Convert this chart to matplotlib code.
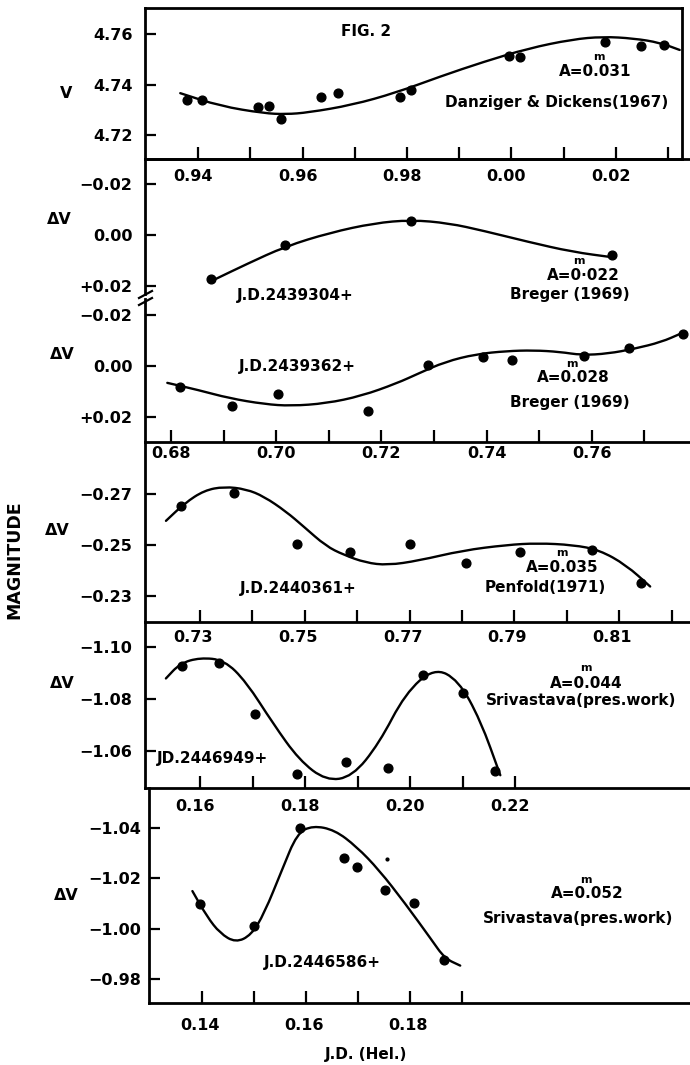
import matplotlib
matplotlib.use('Agg')
import matplotlib.pyplot as plt
from matplotlib.path import Path
from matplotlib.patches import PathPatch
from matplotlib.transforms import ScaledTranslation
from matplotlib.lines import Line2D

plt.rcParams['font.family'] = ['DejaVu Sans']
plt.rcParams['font.weight'] = 'bold'

# ---------------- data ----------------
# Panel 1: Danziger & Dickens (1967)
p1_phase = [0.9379, 0.9407, 0.9514, 0.9536, 0.9558, 0.9636, 0.9668, 0.9787, 0.9808,
            0.9996, 1.0017, 1.0179, 1.0248, 1.0291]
p1_mag = [4.7339, 4.7339, 4.7310, 4.7313, 4.7264, 4.7352, 4.7368, 4.7350, 4.7379,
          4.7514, 4.7509, 4.7571, 4.7555, 4.7557]
p1_curve_x = [0.9366, 0.9442, 0.9526, 0.9568, 0.9611, 0.9695, 0.9779, 0.9863, 0.9947,
              1.0032, 1.0116, 1.0175, 1.0234, 1.0284, 1.0322]
p1_curve_y = [4.7366, 4.7315, 4.7286, 4.7282, 4.7289, 4.7319, 4.7368, 4.7432, 4.7491,
              4.7544, 4.7580, 4.7591, 4.7584, 4.7567, 4.7538]

# Panel 2: Breger (1969), J.D.2439304+
p2_phase = [0.9424, 0.9567, 0.9808, 1.0192]
p2_mag = [0.0171, 0.0039, -0.0056, 0.0078]
p2_curve_x = [0.9434, 0.9493, 0.9567, 0.9653, 0.9737, 0.9808, 0.9880, 0.9947, 1.0032,
              1.0116, 1.0196]
p2_curve_y = [0.0171, 0.0113, 0.0044, -0.0010, -0.0047, -0.0060, -0.0047, -0.0017,
              0.0026, 0.0065, 0.0087]

# Panel 3: Breger (1969), J.D.2439362+
p3_phase = [0.6818, 0.6916, 0.7004, 0.7175, 0.7288, 0.7394, 0.7448, 0.7586, 0.7670, 0.7774]
p3_mag = [0.0083, 0.0154, 0.0108, 0.0176, -0.0003, -0.0036, -0.0026, -0.0041, -0.0070, -0.0127]
p3_curve_x = [0.6793, 0.6852, 0.6911, 0.6978, 0.7028, 0.7095, 0.7162, 0.7229, 0.7271,
              0.7321, 0.7380, 0.7438, 0.7489, 0.7539, 0.7581, 0.7631, 0.7681, 0.7732, 0.7769]
p3_curve_y = [0.0065, 0.0093, 0.0125, 0.0148, 0.0155, 0.0145, 0.0116, 0.0067, 0.0028,
              -0.0017, -0.0047, -0.0059, -0.0062, -0.0056, -0.0043, -0.0049, -0.0068,
              -0.0094, -0.0127]

# Panel 4: Penfold (1971), J.D.2440361+
p4_phase = [0.7264, 0.7365, 0.7486, 0.7586, 0.7700, 0.7808, 0.7911, 0.8048, 0.8142]
p4_mag = [-0.2655, -0.2704, -0.2504, -0.2471, -0.2503, -0.2428, -0.2474, -0.2480, -0.2351]
p4_curve_x = [0.7235, 0.7271, 0.7308, 0.7346, 0.7388, 0.7422, 0.7464, 0.7498, 0.7540,
              0.7574, 0.7616, 0.7658, 0.7717, 0.7801, 0.7885, 0.7944, 0.8012, 0.8062,
              0.8113, 0.8159]
p4_curve_y = [-0.2595, -0.2665, -0.2715, -0.2730, -0.2720, -0.2691, -0.2632, -0.2572,
              -0.2496, -0.2461, -0.2430, -0.2420, -0.2438, -0.2478, -0.2500, -0.2507,
              -0.2500, -0.2480, -0.2421, -0.2336]

# Panel 5: Srivastava (present work), J.D.2446949+
p5_phase = [0.1566, 0.1636, 0.1705, 0.1784, 0.1878, 0.1958, 0.2025, 0.2101, 0.2162]
p5_mag = [-1.0926, -1.0936, -1.0741, -1.0509, -1.0558, -1.0532, -1.0891, -1.0823, -1.0523]
p5_curve_x = [0.1535, 0.1562, 0.1600, 0.1646, 0.1688, 0.1739, 0.1789, 0.1840, 0.1890,
              0.1941, 0.1991, 0.2046, 0.2092, 0.2134, 0.2172]
p5_curve_y = [-1.0878, -1.0936, -1.0958, -1.0949, -1.0865, -1.0705, -1.0564, -1.0485,
              -1.0500, -1.0628, -1.0821, -1.0919, -1.0872, -1.0718, -1.0506]

# Panel 6: Srivastava (present work), J.D.2446586+
p6_phase = [0.1397, 0.1501, 0.1588, 0.1672, 0.1697, 0.1751, 0.1807, 0.1865]
p6_mag = [-1.0098, -1.0011, -1.0397, -1.0281, -1.0243, -1.0153, -1.0101, -0.9876]
p6_speck_x = [0.1756]
p6_speck_y = [-1.0275]
p6_curve_x = [0.1382, 0.1410, 0.1435, 0.1465, 0.1495, 0.1520, 0.1554, 0.1583, 0.1613,
              0.1655, 0.1697, 0.1740, 0.1790, 0.1841, 0.1866, 0.1896]
p6_curve_y = [-1.0149, -1.0048, -0.9982, -0.9945, -0.9975, -1.0061, -1.0233, -1.0378,
              -1.0408, -1.0391, -1.0325, -1.0233, -1.0101, -0.9956, -0.9883, -0.9854]

# tick values / labels
p1_xticks = [0.94, 0.96, 0.98, 1.00, 1.02]
p1_xticklabels = ['0.94', '0.96', '0.98', '0.00', '0.02']
p1_xminor = [0.95, 0.97, 0.99, 1.01, 1.03]
p3_xticks = [0.68, 0.70, 0.72, 0.74, 0.76]
p3_xticklabels = ['0.68', '0.70', '0.72', '0.74', '0.76']
p3_xminor = [0.69, 0.71, 0.73, 0.75, 0.77]
p4_xticks = [0.73, 0.75, 0.77, 0.79, 0.81]
p4_xticklabels = ['0.73', '0.75', '0.77', '0.79', '0.81']
p4_xminor = [0.74, 0.76, 0.78, 0.80, 0.82]
p5_xticks = [0.16, 0.18, 0.20, 0.22]
p5_xticklabels = ['0.16', '0.18', '0.20', '0.22']
p5_xminor = [0.17, 0.19, 0.21]
p6_xticks = [0.14, 0.16, 0.18]
p6_xticklabels = ['0.14', '0.16', '0.18']
p6_xminor = [0.15, 0.17, 0.19]

p1_yticks = [4.76, 4.74, 4.72]
p1_yticklabels = ['4.76', '4.74', '4.72']
p23_yticks = [-0.02, 0.00, 0.02]
p23_yticklabels = ['\u22120.02', '0.00', '+0.02']
p4_yticks = [-0.27, -0.25, -0.23]
p4_yticklabels = ['\u22120.27', '\u22120.25', '\u22120.23']
p5_yticks = [-1.10, -1.08, -1.06]
p5_yticklabels = ['\u22121.10', '\u22121.08', '\u22121.06']
p6_yticks = [-1.04, -1.02, -1.00, -0.98]
p6_yticklabels = ['\u22121.04', '\u22121.02', '\u22121.00', '\u22120.98']

# ---------------- figure ----------------
W, H = 690, 1065
fig = plt.figure(figsize=(6.9, 10.65), dpi=100)


def rect(l, t, r, b):
    return [l / W, 1 - b / H, (r - l) / W, (b - t) / H]


def fpos(x, y):
    return x / W, 1 - y / H


TICKFS = 11.5
LW_SP = 2.0


def smooth(ax, xs, ys, lw=1.7):
    pts = list(zip(xs, ys))
    verts = [pts[0]]
    codes = [Path.MOVETO]
    mid = ((pts[0][0] + pts[1][0]) / 2, (pts[0][1] + pts[1][1]) / 2)
    verts.append(mid)
    codes.append(Path.LINETO)
    for i in range(1, len(pts) - 1):
        nxt = ((pts[i][0] + pts[i + 1][0]) / 2, (pts[i][1] + pts[i + 1][1]) / 2)
        verts += [pts[i], nxt]
        codes += [Path.CURVE3, Path.CURVE3]
    verts.append(pts[-1])
    codes.append(Path.LINETO)
    ax.add_patch(PathPatch(Path(verts, codes), fill=False, lw=lw, color='black',
                           capstyle='round', joinstyle='round'))


def setup(ax, xlim, ylim, yticks, yticklabels, ypad, spines,
          xticks=None, xticklabels=None, xminor=None, xpad=6, xshift=0):
    ax.set_xlim(*xlim)
    ax.set_ylim(*ylim)
    for s in ['left', 'right', 'top', 'bottom']:
        ax.spines[s].set_visible(s in spines)
        ax.spines[s].set_linewidth(LW_SP)
    ax.set_yticks(yticks)
    ax.set_yticklabels(yticklabels)
    ax.tick_params(axis='y', direction='in', length=8, width=1.6, pad=ypad,
                   labelsize=TICKFS, left=True, right=False)
    if xticks is not None:
        ax.set_xticks(xticks)
        ax.set_xticklabels(xticklabels)
        ax.set_xticks(xminor, minor=True)
        ax.tick_params(axis='x', which='both', direction='in', length=9, width=1.6,
                       pad=xpad, labelsize=TICKFS, bottom=True, top=False)
        if xshift:
            off = ScaledTranslation(xshift / 100, 0, fig.dpi_scale_trans)
            for lab in ax.get_xticklabels():
                lab.set_transform(lab.get_transform() + off)
    else:
        ax.set_xticks([])
    ax.patch.set_alpha(0)


MS = 6.3

# Panel 1
ax1 = fig.add_axes(rect(145, 8, 682, 159))
setup(ax1, (0.92985, 1.03264), (4.7104, 4.7705), p1_yticks, p1_yticklabels, 9,
      ['left', 'right', 'top', 'bottom'], p1_xticks, p1_xticklabels, p1_xminor, 7, -5)
ax1.plot(p1_phase, p1_mag, 'o', color='black', ms=MS)
smooth(ax1, p1_curve_x, p1_curve_y)

# Panel 2
ax2 = fig.add_axes(rect(145, 159, 690, 294))
setup(ax2, (0.92985, 1.03418), (0.02299, -0.0298), p23_yticks, p23_yticklabels, 9,
      ['left', 'top'])
ax2.plot(p2_phase, p2_mag, 'o', color='black', ms=MS)
smooth(ax2, p2_curve_x, p2_curve_y)

# Panel 3
ax3 = fig.add_axes(rect(145, 299, 690, 442))
setup(ax3, (0.67506, 0.77867), (0.02956, -0.0262), p23_yticks, p23_yticklabels, 9,
      ['left', 'bottom'], p3_xticks, p3_xticklabels, p3_xminor, 3, 0)
ax3.plot(p3_phase, p3_mag, 'o', color='black', ms=MS)
smooth(ax3, p3_curve_x, p3_curve_y)

# Panel 4
ax4 = fig.add_axes(rect(145, 442, 690, 622))
setup(ax4, (0.7195, 0.8235), (-0.2196, -0.2906), p4_yticks, p4_yticklabels, 9,
      ['left', 'bottom'], p4_xticks, p4_xticklabels, p4_xminor, 6, -7)
ax4.plot(p4_phase, p4_mag, 'o', color='black', ms=MS)
smooth(ax4, p4_curve_x, p4_curve_y)

# Panel 5
ax5 = fig.add_axes(rect(145, 622, 690, 788))
setup(ax5, (0.14952, 0.25333), (-1.0457, -1.1095), p5_yticks, p5_yticklabels, 9,
      ['left', 'bottom'], p5_xticks, p5_xticklabels, p5_xminor, 8, -5)
ax5.plot(p5_phase, p5_mag, 'o', color='black', ms=MS)
smooth(ax5, p5_curve_x, p5_curve_y)

# Panel 6
ax6 = fig.add_axes(rect(149, 788, 690, 1003))
setup(ax6, (0.12987, 0.2337), (-0.9706, -1.0557), p6_yticks, p6_yticklabels, 6,
      ['left', 'bottom'], p6_xticks, p6_xticklabels, p6_xminor, 11, -2)
ax6.plot(p6_phase, p6_mag, 'o', color='black', ms=MS)
ax6.plot(p6_speck_x, p6_speck_y, 'o', color='black', ms=2)
smooth(ax6, p6_curve_x, p6_curve_y)

# axis break marks between panel 2 and 3
for y0 in (295, 302):
    x0, y0f = fpos(139, y0 + 3)
    x1, y1f = fpos(152, y0 - 4)
    fig.add_artist(Line2D([x0, x1], [y0f, y1f], transform=fig.transFigure,
                          color='black', lw=1.6))

# ---------------- text ----------------
AFS = 11
MFS = 8


def t(x, y, s, fs=AFS, ha='center', **kw):
    fig.text(*fpos(x, y), s, fontsize=fs, ha=ha, va='center', fontweight='bold', **kw)


t(366, 32, 'FIG. 2')
t(66, 93, 'V', fs=11.5)
t(599, 57, 'm', fs=MFS)
t(595, 72, 'A=0.031')
t(557, 103, 'Danziger & Dickens(1967)')

t(59, 220, '\u0394V', fs=11.5)
t(579, 261, 'm', fs=MFS)
t(583, 276, 'A=0\u00b7022')
t(570, 294, 'Breger (1969)')
t(295, 296, 'J.D.2439304+')

t(62, 355, '\u0394V', fs=11.5)
t(297, 367, 'J.D.2439362+')
t(572, 364, 'm', fs=MFS)
t(573, 378, 'A=0.028')
t(570, 403, 'Breger (1969)')

t(57, 530, '\u0394V', fs=11.5)
t(298, 588, 'J.D.2440361+')
t(562, 553, 'm', fs=MFS)
t(562, 568, 'A=0.035')
t(545, 588, 'Penfold(1971)')

t(62, 683, '\u0394V', fs=11.5)
t(586, 668, 'm', fs=MFS)
t(586, 683, 'A=0.044')
t(486, 700, 'Srivastava(pres.work)', ha='left')
t(157, 758, 'JD.2446949+', ha='left')

t(66, 895, '\u0394V', fs=11.5)
t(586, 880, 'm', fs=MFS)
t(587, 894, 'A=0.052')
t(483, 918, 'Srivastava(pres.work)', ha='left')
t(322, 963, 'J.D.2446586+')

t(14, 560, 'MAGNITUDE', fs=12.5, rotation=90)
t(366, 1055, 'J.D. (Hel.)')

fig.savefig('out.png', dpi=100)
